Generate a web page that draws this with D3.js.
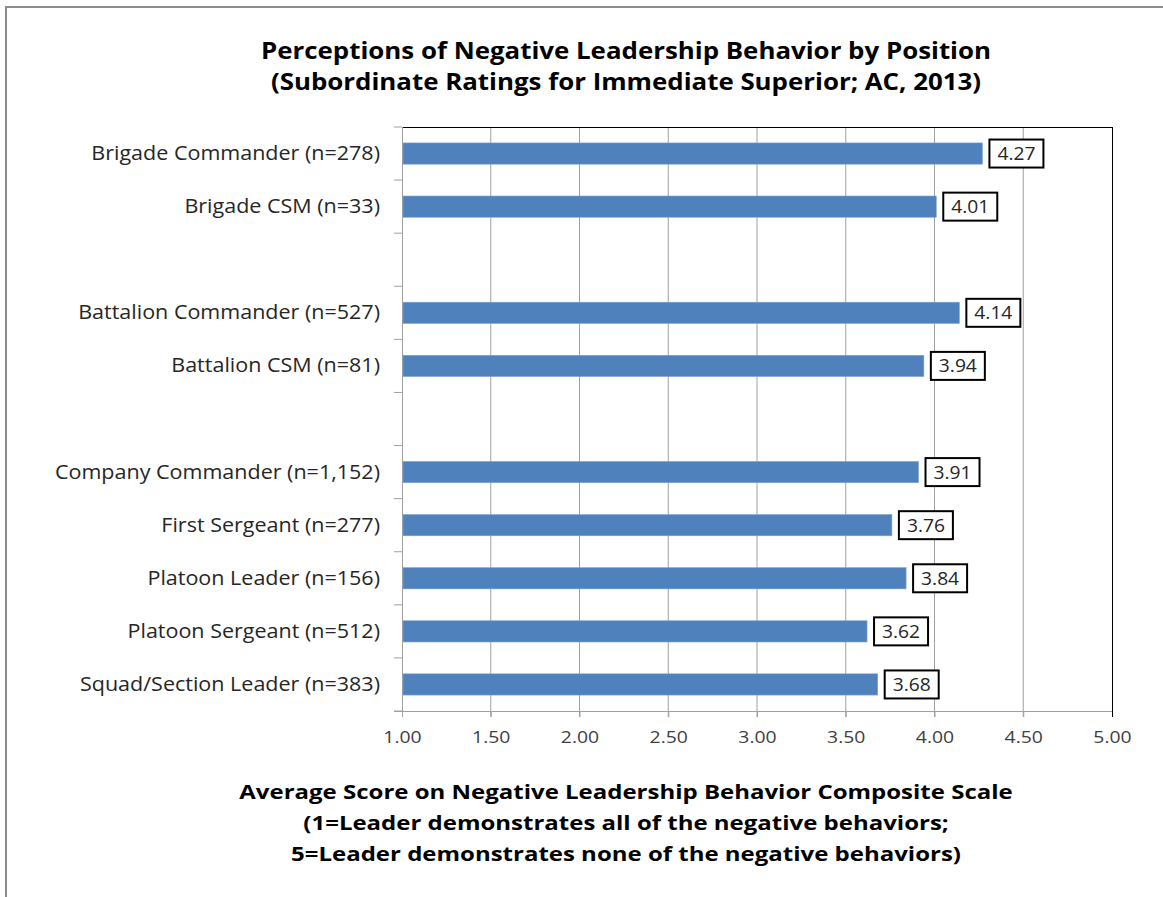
<!DOCTYPE html>
<html><head><meta charset="utf-8">
<script src="https://cdn.jsdelivr.net/npm/d3@7"></script>
<style>body{margin:0;background:#fff}svg{display:block}</style>
</head><body>
<svg id="c" width="1163" height="897"></svg>
<script>
const categories = ["Brigade Commander (n=278)","Brigade CSM (n=33)","","Battalion Commander (n=527)","Battalion CSM (n=81)","","Company Commander (n=1,152)","First Sergeant (n=277)","Platoon Leader (n=156)","Platoon Sergeant (n=512)","Squad/Section Leader (n=383)"];
const values = [4.27,4.01,null,4.14,3.94,null,3.91,3.76,3.84,3.62,3.68];
const xTicks = [1.00,1.50,2.00,2.50,3.00,3.50,4.00,4.50,5.00];
const titleLines = ["Perceptions of Negative Leadership Behavior by Position","(Subordinate Ratings for Immediate Superior; AC, 2013)"];
const xTitleLines = ["Average Score on Negative Leadership Behavior Composite Scale","(1=Leader demonstrates all of the negative behaviors;","5=Leader demonstrates none of the negative behaviors)"];

const svg = d3.select("#c");
const font = "'Open Sans', sans-serif";
const L = 402, R = 1112, T = 127, B = 711;

// outer frame
svg.append("rect").attr("x",6).attr("y",7).attr("width",1180).attr("height",920)
  .attr("fill","none").attr("stroke","#8c8c8c").attr("stroke-width",2);

const x = d3.scaleLinear().domain([1,5]).range([L,R]);
const idx = d3.range(categories.length);
const y = d3.scaleBand().domain(idx).range([T,B]).paddingInner(0).paddingOuter(0);

// gridlines
svg.append("g").selectAll("line").data(xTicks.slice(1,-1)).join("line")
  .attr("x1",d=>x(d)).attr("x2",d=>x(d)).attr("y1",T).attr("y2",B+6)
  .attr("stroke","#a0a0a0").attr("stroke-width",1);

// plot border top/right
svg.append("line").attr("x1",L).attr("x2",R).attr("y1",T+0.5).attr("y2",T+0.5).attr("stroke","#000").attr("stroke-width",1);
svg.append("line").attr("x1",R+0.5).attr("x2",R+0.5).attr("y1",T).attr("y2",B+6).attr("stroke","#000").attr("stroke-width",1);

// x axis
const tickFs = 17, tickSx = 1.14;
const xAxis = svg.append("g").attr("transform",`translate(0,${B})`)
  .call(d3.axisBottom(x).tickValues(xTicks).tickFormat(d3.format(".2f")).tickSize(6).tickPadding(14));
xAxis.select(".domain").attr("stroke","#a0a0a0").attr("d",`M${L-8},0.5H${R}`);
xAxis.selectAll(".tick line").attr("stroke","#a0a0a0");
xAxis.selectAll(".tick").filter(d=>d===5).select("line").attr("stroke","#000");
xAxis.selectAll("text").attr("font-family",font).attr("font-size",tickFs).attr("fill","#404040")
  .attr("transform",`scale(${tickSx},1)`);

// y axis
const catFs = 20.5, catSx = 1.05, catPad = 22;
const yAxis = svg.append("g").attr("transform",`translate(${L},0)`)
  .call(d3.axisLeft(y).tickFormat(i=>categories[i]).tickSize(0).tickPadding(catPad));
yAxis.select(".domain").attr("stroke","#a0a0a0").attr("d",`M0.5,${T}V${B}`);
yAxis.selectAll("text").attr("font-family",font).attr("font-size",catFs).attr("fill","#262626")
  .attr("x",-catPad/catSx).attr("transform",`scale(${catSx},1)`);
// boundary ticks
svg.append("g").selectAll("line").data(d3.range(categories.length+1)).join("line")
  .attr("x1",L-8).attr("x2",L).attr("y1",i=>T+i*y.step()).attr("y2",i=>T+i*y.step())
  .attr("stroke","#a0a0a0");

const data = idx.filter(i=>values[i]!==null);
const bh = y.bandwidth()*0.4;
svg.append("g").selectAll("rect").data(data).join("rect")
  .attr("x",L+1).attr("y",i=>y(i)+y.bandwidth()/2-bh/2)
  .attr("width",i=>x(values[i])-L-1).attr("height",bh)
  .attr("fill","#4F81BD").attr("stroke","#7fa3d0").attr("stroke-width",0.6);

// labels
const lg = svg.append("g").selectAll("g").data(data).join("g")
  .attr("transform",i=>`translate(${x(values[i])+7},${y(i)+y.bandwidth()/2})`);
lg.append("rect").attr("x",0).attr("y",-14).attr("width",54).attr("height",28)
  .attr("fill","#fff").attr("stroke","#000").attr("stroke-width",2);
lg.append("text").attr("transform","translate(27,6.5) scale(1.1,1)").attr("text-anchor","middle")
  .attr("font-family",font).attr("font-size",17.5).attr("fill","#262626")
  .text(i=>values[i].toFixed(2));

// titles
svg.append("g").selectAll("text").data(titleLines).join("text")
  .attr("transform",(d,i)=>`translate(626,${59+i*31}) scale(1.15,1)`).attr("text-anchor","middle")
  .attr("font-family",font).attr("font-weight","bold").attr("font-size",22.5).attr("fill","#000")
  .text(d=>d);
svg.append("g").selectAll("text").data(xTitleLines).join("text")
  .attr("transform",(d,i)=>`translate(626,${799+i*31}) scale(1.2,1)`).attr("text-anchor","middle")
  .attr("font-family",font).attr("font-weight","bold").attr("font-size",20).attr("fill","#000")
  .text(d=>d);
</script>
</body></html>
